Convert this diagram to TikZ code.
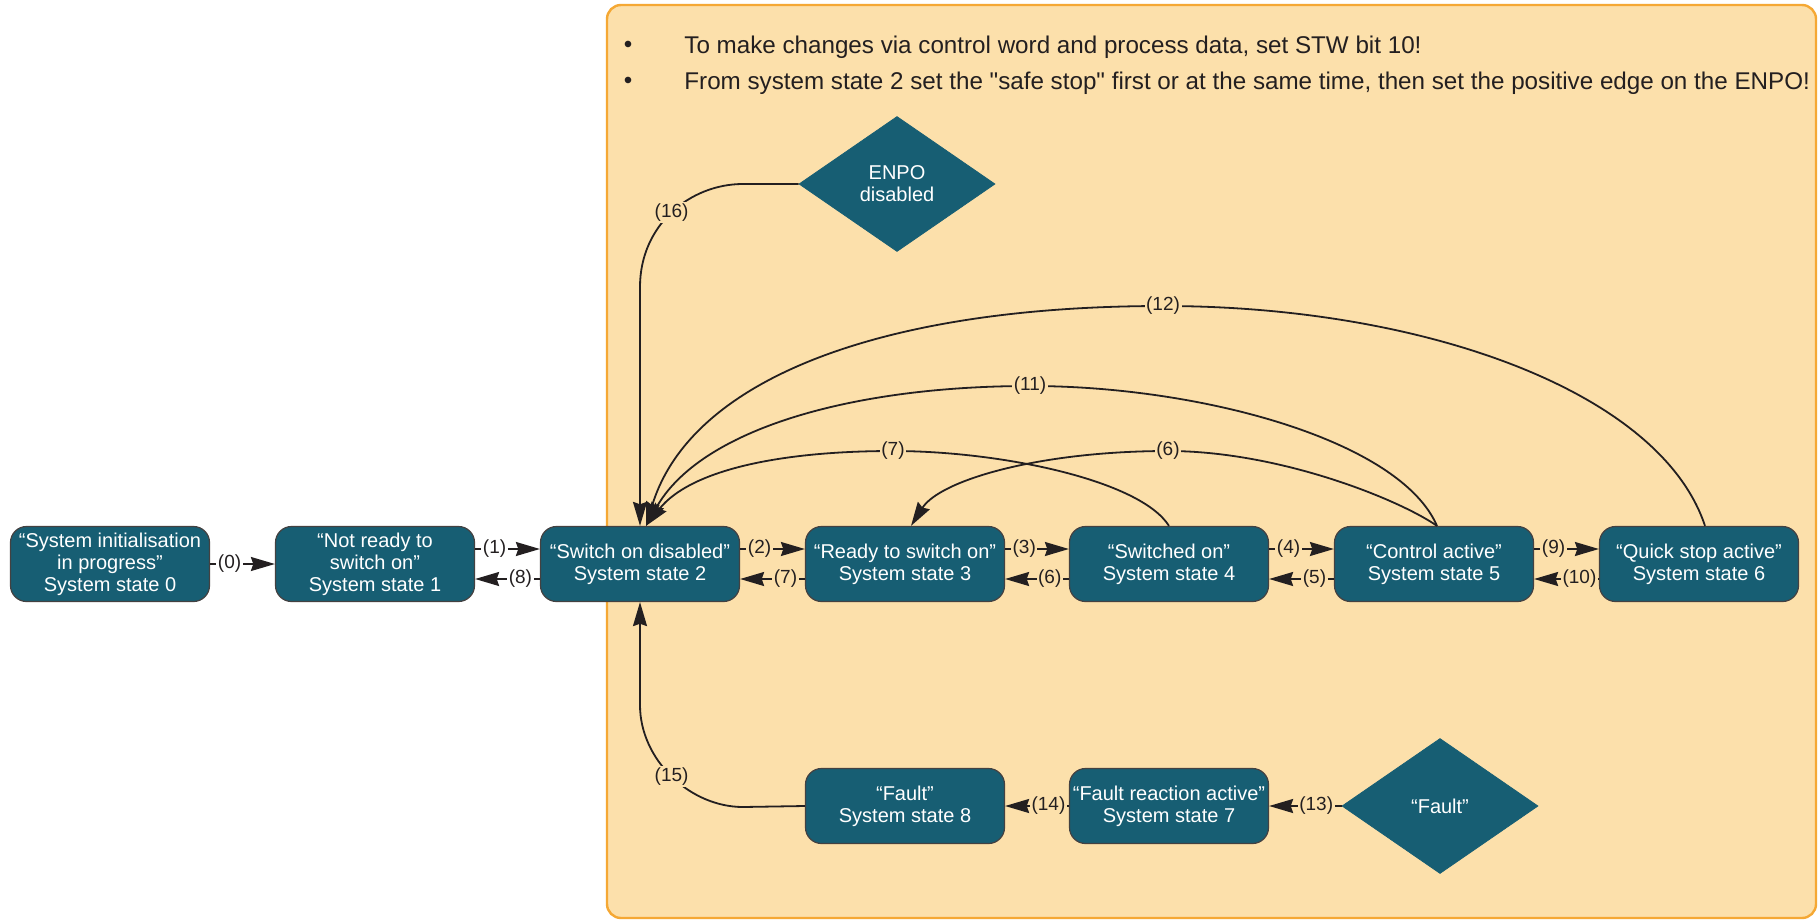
\documentclass[tikz,border=0pt]{standalone}
\usepackage{fontspec}
\setmainfont{Liberation Sans}
\usetikzlibrary{arrows.meta,shapes.geometric}
\definecolor{stateteal}{RGB}{23,94,115}
\definecolor{boxfill}{RGB}{252,224,171}
\definecolor{boxedge}{RGB}{245,168,52}
\definecolor{ink}{RGB}{35,31,32}
\begin{document}
\begin{tikzpicture}[x=0.5pt,y=-0.5pt,
  state/.style={draw=ink!85, line width=0.6pt, fill=stateteal, rounded corners=8pt,
    minimum width=99.5pt, minimum height=37.5pt, inner sep=1pt, align=center,
    text=white, font=\fontsize{10}{11}\selectfont},
  cond/.style={diamond, aspect=1.45, fill=stateteal, draw=stateteal, minimum width=98pt,
    minimum height=67.5pt, inner sep=0pt, align=center, text=white,
    font=\fontsize{10}{11}\selectfont},
  conn/.style={draw=ink, line width=0.9pt, -{Stealth[length=12pt,width=7pt,inset=1.2pt]}},
  lab/.style={font=\fontsize{9.5}{10}\selectfont, text=ink, inner sep=0.8pt, fill=boxfill},
  labw/.style={lab, fill=white},
  note/.style={anchor=west, font=\fontsize{12.1}{14}\selectfont, text=ink, inner sep=0pt}]

\useasboundingbox (0,0) rectangle (1820,921);
\fill[white] (0,0) rectangle (1820,921);
\draw[boxedge, fill=boxfill, line width=1.2pt, rounded corners=7pt] (607,5) rectangle (1816,918);

% notes
\node[note, anchor=center] (b1) at (628,47) {•};
\node[note, anchor=center] (b2) at (628,83) {•};
\node[note] (t1) at (684,47) {To make changes via control word and process data, set STW bit 10!};
\node[note] (t2) at (684,83) {From system state 2 set the {\addfontfeature{Ligatures=TeXOff}"}safe stop{\addfontfeature{Ligatures=TeXOff}"} first or at the same time, then set the positive edge on the ENPO!};

% states
\node[state] (s0) at (110,564) {“System initialisation\\in progress”\\System state 0};
\node[state] (s1) at (375,564) {“Not ready to\\switch on”\\System state 1};
\node[state] (s2) at (640,564) {“Switch on disabled”\\System state 2};
\node[state] (s3) at (905,564) {“Ready to switch on”\\System state 3};
\node[state] (s4) at (1169,564) {“Switched on”\\System state 4};
\node[state] (s5) at (1434,564) {“Control active”\\System state 5};
\node[state] (s6) at (1699,564) {“Quick stop active”\\System state 6};
\node[state] (s8) at (905,806) {“Fault”\\System state 8};
\node[state] (s7) at (1169,806) {“Fault reaction active”\\System state 7};
\node[cond] (fault) at (1440,806) {“Fault”};
\node[cond] (enpo) at (897,184) {ENPO\\disabled};

% horizontal transitions
\draw[conn] (s0.east) -- node[labw,pos=0.3]{(0)} (s1.west);
\draw[conn] ([yshift=7.5pt]s1.east) -- node[labw,pos=0.3]{(1)} ([yshift=7.5pt]s2.west);
\draw[conn] ([yshift=-7.5pt]s2.west) -- node[labw,pos=0.3]{(8)} ([yshift=-7.5pt]s1.east);
\draw[conn] ([yshift=7.5pt]s2.east) -- node[lab,pos=0.3]{(2)} ([yshift=7.5pt]s3.west);
\draw[conn] ([yshift=-7.5pt]s3.west) -- node[lab,pos=0.3]{(7)} ([yshift=-7.5pt]s2.east);
\draw[conn] ([yshift=7.5pt]s3.east) -- node[lab,pos=0.3]{(3)} ([yshift=7.5pt]s4.west);
\draw[conn] ([yshift=-7.5pt]s4.west) -- node[lab,pos=0.3]{(6)} ([yshift=-7.5pt]s3.east);
\draw[conn] ([yshift=7.5pt]s4.east) -- node[lab,pos=0.3]{(4)} ([yshift=7.5pt]s5.west);
\draw[conn] ([yshift=-7.5pt]s5.west) -- node[lab,pos=0.3]{(5)} ([yshift=-7.5pt]s4.east);
\draw[conn] ([yshift=7.5pt]s5.east) -- node[lab,pos=0.3]{(9)} ([yshift=7.5pt]s6.west);
\draw[conn] ([yshift=-7.5pt]s6.west) -- node[lab,pos=0.3]{(10)} ([yshift=-7.5pt]s5.east);
\draw[conn] (s7.west) -- node[lab,pos=0.32]{(14)} (s8.east);
\draw[conn] (fault.west) -- node[lab,pos=0.35]{(13)} (s7.east);

% arcs
\draw[conn] ([xshift=3pt]s6.north) .. controls (1660,390) and (1420,306) .. (1163,306)
  node[lab]{(12)} .. controls (880,306) and (690,380) .. ([xshift=3pt]s2.north);
\draw[conn] ([xshift=1.5pt]s5.north) .. controls (1400,440) and (1200,386) .. (1030,386)
  node[lab]{(11)} .. controls (850,386) and (700,430) .. ([xshift=3pt]s2.north);
\draw[conn] (s4.north) .. controls (1140,480) and (1000,451) .. (893,451)
  node[lab]{(7)} .. controls (780,451) and (690,470) .. ([xshift=3pt]s2.north);
\draw[conn] ([xshift=1.5pt]s5.north) .. controls (1400,500) and (1280,451) .. (1168,451)
  node[lab]{(6)} .. controls (1040,451) and (940,480) .. ([xshift=3pt]s3.north);

% ENPO and fault returns
\draw[conn] (enpo.west) -- (743,184) .. controls (690,184) and (640,225) ..
  node[lab]{(16)} (640,287) -- (s2.north);
\draw[conn] (s8.west) -- (743,807) .. controls (690,807) and (640,760) ..
  node[lab]{(15)} (640,705) -- (s2.south);
\end{tikzpicture}
\end{document}
